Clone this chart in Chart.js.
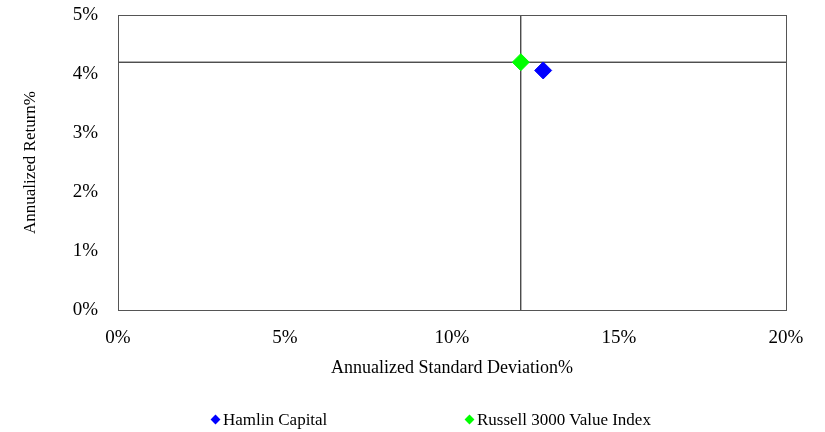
<!DOCTYPE html>
<html lang="en">
<head>
  <meta charset="UTF-8">
  <title>Risk / Return</title>
  <script src="https://cdn.jsdelivr.net/npm/chart.js"></script>
  <style>
    body {
      margin: 0;
      background-color: white;
      font-family: "Liberation Serif", "Times New Roman", serif;
    }
    .wrap {
      position: relative;
      width: 825px;
      height: 432px;
    }
    .legend {
      position: absolute;
      top: 410px;
      font-size: 17px;
      color: #000;
      white-space: nowrap;
    }
    .legend .mark {
      display: inline-block;
      width: 7px;
      height: 7px;
      transform: rotate(45deg);
      margin-right: 4px;
      vertical-align: 2px;
    }
  </style>
</head>
<body>
  <div class="wrap">
    <canvas id="riskChart" width="825" height="432"></canvas>
    <div class="legend" style="left:212px"><span class="mark" style="background:#0000ff"></span>Hamlin Capital</div>
    <div class="legend" style="left:466px"><span class="mark" style="background:#00ff00"></span>Russell 3000 Value Index</div>
  </div>

  <script>
    // Series (annualized std dev %, annualized return %)
    const seriesNames = ['Hamlin Capital', 'Russell 3000 Value Index'];
    const seriesColors = ['#0000ff', '#00ff00'];
    const stdDev = [12.73, 12.06];
    const annReturn = [4.06, 4.20];

    // Axes
    const xTicks = [0, 5, 10, 15, 20];
    const yTicks = [0, 1, 2, 3, 4, 5];

    const serif = '"Liberation Serif", "Times New Roman", serif';

    // crosshair through the benchmark point
    const benchX = stdDev[1];
    const benchY = annReturn[1];

    const pointSets = seriesNames.map((name, i) => ({
      label: name,
      data: [{ x: stdDev[i], y: annReturn[i] }],
      pointStyle: 'rectRot',
      pointRadius: 8.5,
      pointHoverRadius: 8.5,
      backgroundColor: seriesColors[i],
      borderColor: seriesColors[i],
      borderWidth: 1
    }));

    const crossSets = [
      { label: 'v', data: [{ x: benchX, y: yTicks[0] }, { x: benchX, y: yTicks[yTicks.length - 1] }] },
      { label: 'h', data: [{ x: xTicks[0], y: benchY }, { x: xTicks[xTicks.length - 1], y: benchY }] }
    ].map(d => Object.assign(d, {
      showLine: true,
      pointRadius: 0,
      borderColor: '#000',
      borderWidth: 1
    }));

    const frame = {
      id: 'frame',
      afterDatasetsDraw(chart) {
        const a = chart.chartArea;
        const c = chart.ctx;
        c.save();
        c.strokeStyle = '#555';
        c.lineWidth = 1;
        c.strokeRect(Math.round(a.left) + 0.5, Math.round(a.top) + 0.5,
          Math.round(a.right - a.left), Math.round(a.bottom - a.top));
        c.restore();
      }
    };

    new Chart(document.getElementById('riskChart'), {
      type: 'scatter',
      data: { datasets: pointSets.concat(crossSets) },
      plugins: [frame],
      options: {
        responsive: false,
        animation: false,
        layout: { padding: { top: 15, right: 39, bottom: 37, left: 0 } },
        plugins: {
          legend: { display: false },
          tooltip: { enabled: false }
        },
        scales: {
          x: {
            type: 'linear',
            min: xTicks[0],
            max: xTicks[xTicks.length - 1],
            afterFit(scale) { scale.height = 85; },
            afterBuildTicks(scale) { scale.ticks = xTicks.map(v => ({ value: v })); },
            grid: { display: false, drawTicks: false },
            border: { display: false },
            ticks: {
              padding: 17,
              color: '#000',
              font: { family: serif, size: 19 },
              callback: v => v + '%'
            },
            title: {
              display: true,
              text: 'Annualized Standard Deviation%',
              color: '#000',
              font: { family: serif, size: 18 },
              padding: { top: 0, bottom: 16 }
            }
          },
          y: {
            type: 'linear',
            min: yTicks[0],
            max: yTicks[yTicks.length - 1],
            afterFit(scale) {
              scale.width = 118;
              scale.paddingTop = 0;
              scale.paddingBottom = 0;
            },
            afterBuildTicks(scale) { scale.ticks = yTicks.map(v => ({ value: v })); },
            grid: { display: false, drawTicks: false },
            border: { display: false },
            ticks: {
              padding: 20,
              color: '#000',
              font: { family: serif, size: 19 },
              callback: v => v + '%'
            },
            title: {
              display: true,
              text: 'Annualized Return%',
              color: '#000',
              font: { family: serif, size: 17 },
              padding: { top: 20, bottom: 0 }
            }
          }
        }
      }
    });
  </script>
</body>
</html>
